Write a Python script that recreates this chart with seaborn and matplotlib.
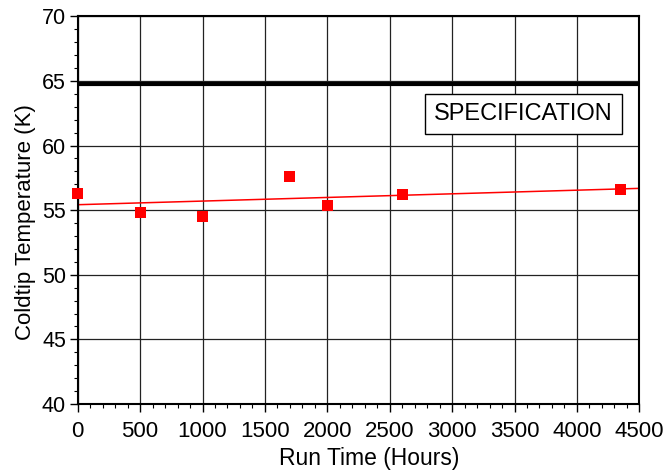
import numpy as np
import pandas as pd
import matplotlib
matplotlib.use("Agg")
import matplotlib.pyplot as plt
from matplotlib.ticker import MultipleLocator
import seaborn as sns

# data
run_hours = [0, 500, 1000, 1700, 2000, 2600, 4350]
coldtip_k = [56.3, 54.8, 54.5, 57.6, 55.35, 56.2, 56.6]
spec_limit = 64.75

df = pd.DataFrame({"hours": run_hours, "temp": coldtip_k})

sns.set_theme(style="ticks")
plt.rcParams["font.family"] = ["Liberation Sans", "DejaVu Sans"]
plt.rcParams.update({"text.color": "black", "axes.labelcolor": "black",
                     "xtick.color": "black", "ytick.color": "black"})

fig = plt.figure(figsize=(6.67, 4.76), dpi=100)
ax = fig.add_axes([0.1165, 0.1513, 0.842, 0.8145])

ax.set_xlim(0, 4500)
ax.set_ylim(40, 70)

# grid
ax.xaxis.set_major_locator(MultipleLocator(500))
ax.xaxis.set_minor_locator(MultipleLocator(100))
ax.yaxis.set_major_locator(MultipleLocator(5))
ax.yaxis.set_minor_locator(MultipleLocator(1))
ax.grid(True, which="major", color="#222222", linewidth=0.9)
ax.set_axisbelow(True)

# fitted trend line + data
sns.regplot(data=df, x="hours", y="temp", ax=ax, scatter=False, ci=None,
            truncate=False, color="#ff0000", line_kws={"linewidth": 1.1})
sns.scatterplot(data=df, x="hours", y="temp", ax=ax, marker="s", s=62,
                color="#ff0000", edgecolor="none", zorder=4, clip_on=False)

# specification line and label
ax.axhline(spec_limit, color="black", linewidth=3.0, zorder=3)
ax.text(3572, 62.45, "SPECIFICATION", fontsize=17, ha="center", va="center",
        bbox=dict(boxstyle="square,pad=0.38", facecolor="white",
                  edgecolor="black", linewidth=1.0), zorder=5)

for sp in ax.spines.values():
    sp.set_visible(True)
    sp.set_color("black")
    sp.set_linewidth(1.5)

ax.tick_params(which="major", direction="out", length=5.5, width=1.0,
               labelsize=15.5)
ax.tick_params(axis="x", which="major", pad=7, labelsize=16)
ax.tick_params(axis="y", which="major", pad=3)
ax.tick_params(which="minor", direction="out", length=3, width=0.8)

ax.set_xlabel("Run Time (Hours)", fontsize=16.5, labelpad=3)
ax.set_ylabel("Coldtip Temperature (K)", fontsize=16, labelpad=4)
ax.xaxis.label.set_x(0.519)
ax.yaxis.label.set_y(0.47)

fig.savefig("out.png", dpi=100)
